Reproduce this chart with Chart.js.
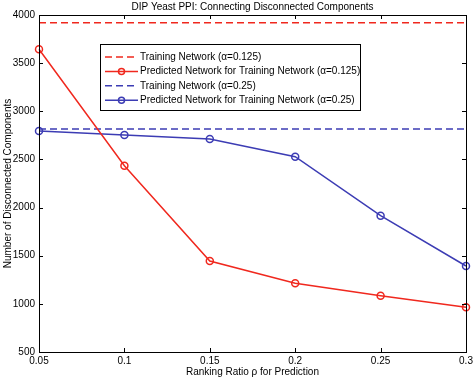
<!DOCTYPE html>
<html>
<head>
<meta charset="utf-8">
<script src="https://cdn.jsdelivr.net/npm/chart.js@4"></script>
<style>
  html, body { margin: 0; padding: 0; background: #fff; }
  #wrap { width: 473px; height: 378px; }
</style>
</head>
<body>
<div id="wrap"><canvas id="ppiChart" width="473" height="378"></canvas></div>
<script>
// ranking ratio on the x axis
var ratios = [0.05, 0.1, 0.15, 0.2, 0.25, 0.3];
// predicted networks
var predicted125 = [3644, 2435, 1445, 1213, 1085, 964];
var predicted25 = [2795, 2754, 2712, 2528, 1916, 1393];
// training networks (flat reference lines)
var training125 = 3920;
var training25 = 2816;

var xTicks = [0.05, 0.1, 0.15, 0.2, 0.25, 0.3];
var yTicks = [500, 1000, 1500, 2000, 2500, 3000, 3500, 4000];

var chartTitle = 'DIP Yeast PPI: Connecting Disconnected Components';

var RED = 'rgb(240, 40, 30)';
var BLUE = 'rgb(60, 60, 180)';
var FONT = 'Liberation Sans, Arial, Helvetica, sans-serif';

function pts(vals) {
    var out = [];
    for (var i = 0; i < ratios.length; i++) {
        out.push({ x: ratios[i], y: vals[i] });
    }
    return out;
}
function flat(v) {
    return [{ x: ratios[0], y: v }, { x: ratios[ratios.length - 1], y: v }];
}

// box + inward ticks, matlab style, title centred over the axes
var boxPlugin = {
    id: 'boxTicks',
    afterDatasetsDraw(chart) {
        var ctx = chart.ctx, a = chart.chartArea;
        var xs = chart.scales.x, ys = chart.scales.y;
        ctx.save();
        ctx.strokeStyle = '#000';
        ctx.lineWidth = 1;
        ctx.strokeRect(Math.round(a.left) + 0.5, Math.round(a.top) + 0.5,
            Math.round(a.right - a.left), Math.round(a.bottom - a.top));
        ctx.beginPath();
        xTicks.forEach(function (t) {
            var px = Math.round(xs.getPixelForValue(t)) + 0.5;
            ctx.moveTo(px, a.bottom); ctx.lineTo(px, a.bottom - 4);
            ctx.moveTo(px, a.top); ctx.lineTo(px, a.top + 4);
        });
        yTicks.forEach(function (t) {
            var py = Math.round(ys.getPixelForValue(t)) + 0.5;
            ctx.moveTo(a.left, py); ctx.lineTo(a.left + 4, py);
            ctx.moveTo(a.right, py); ctx.lineTo(a.right - 4, py);
        });
        ctx.stroke();

        ctx.fillStyle = '#000';
        ctx.font = '10px ' + FONT;
        ctx.textAlign = 'center';
        ctx.textBaseline = 'middle';
        ctx.fillText(chartTitle, (a.left + a.right) / 2, 7);
        ctx.restore();
    }
};

// legend box inside the axes
var legendPlugin = {
    id: 'boxLegend',
    afterDatasetsDraw(chart) {
        var ctx = chart.ctx;
        var ds = chart.data.datasets;
        var x0 = 100, y0 = 44, w = 260, h = 66;
        ctx.save();
        ctx.fillStyle = '#fff';
        ctx.fillRect(x0, y0, w, h);
        ctx.strokeStyle = '#000';
        ctx.lineWidth = 1;
        ctx.strokeRect(x0 + 0.5, y0 + 0.5, w, h);
        ctx.font = '10px ' + FONT;
        ctx.textBaseline = 'middle';
        for (var i = 0; i < ds.length; i++) {
            var y = y0 + 13 + i * 14.4;
            ctx.strokeStyle = ds[i].borderColor;
            ctx.lineWidth = 1.5;
            ctx.setLineDash(ds[i].borderDash || []);
            ctx.beginPath();
            ctx.moveTo(105, y); ctx.lineTo(138, y);
            ctx.stroke();
            ctx.setLineDash([]);
            if (ds[i].pointRadius > 0) {
                ctx.beginPath();
                ctx.arc(121.5, y, 3, 0, Math.PI * 2);
                ctx.stroke();
            }
            ctx.fillStyle = '#000';
            ctx.fillText(ds[i].label, 140, y);
        }
        ctx.restore();
    }
};

var ctx = document.getElementById('ppiChart').getContext('2d');
var chart = new Chart(ctx, {
    type: 'line',
    data: {
        datasets: [{
            label: 'Training Network (\u03B1=0.125)',
            data: flat(training125),
            borderColor: RED,
            borderWidth: 1.5,
            borderDash: [7, 4],
            pointRadius: 0
        }, {
            label: 'Predicted Network for Training Network (\u03B1=0.125)',
            data: pts(predicted125),
            borderColor: RED,
            borderWidth: 1.5,
            pointRadius: 3.5,
            pointBorderWidth: 1.5,
            pointBackgroundColor: 'rgba(0,0,0,0)',
            pointBorderColor: RED
        }, {
            label: 'Training Network (\u03B1=0.25)',
            data: flat(training25),
            borderColor: BLUE,
            borderWidth: 1.5,
            borderDash: [7, 4],
            pointRadius: 0
        }, {
            label: 'Predicted Network for Training Network (\u03B1=0.25)',
            data: pts(predicted25),
            borderColor: BLUE,
            borderWidth: 1.5,
            pointRadius: 3.5,
            pointBorderWidth: 1.5,
            pointBackgroundColor: 'rgba(0,0,0,0)',
            pointBorderColor: BLUE
        }]
    },
    options: {
        responsive: false,
        animation: false,
        clip: false,
        layout: { padding: { left: 0, right: 7, top: 15, bottom: 0 } },
        plugins: {
            legend: { display: false },
            tooltip: { enabled: false },
            title: { display: false }
        },
        scales: {
            x: {
                type: 'linear',
                min: 0.05,
                max: 0.3,
                afterBuildTicks: function (s) { s.ticks = xTicks.map(function (v) { return { value: v }; }); },
                afterFit: function (s) { s.height = 26; s.paddingLeft = 0; s.paddingRight = 0; },
                grid: { display: false, drawTicks: false },
                border: { display: false },
                ticks: {
                    color: '#000',
                    padding: 3,
                    font: { family: FONT, size: 10 },
                    callback: function (v) { return String(parseFloat(v.toFixed(2))); }
                },
                title: {
                    display: true,
                    text: 'Ranking Ratio \u03C1 for Prediction',
                    color: '#000',
                    font: { family: FONT, size: 10 },
                    padding: { top: 0, bottom: 0 }
                }
            },
            y: {
                min: 500,
                max: 4000,
                afterBuildTicks: function (s) { s.ticks = yTicks.map(function (v) { return { value: v }; }); },
                afterFit: function (s) { s.width = 39; },
                grid: { display: false, drawTicks: false },
                border: { display: false },
                ticks: {
                    color: '#000',
                    padding: 4,
                    font: { family: FONT, size: 10 },
                    callback: function (v) { return String(v); }
                },
                title: {
                    display: true,
                    text: 'Number of Disconnected Components',
                    color: '#000',
                    font: { family: FONT, size: 10 },
                    padding: { top: 2, bottom: 0 }
                }
            }
        }
    },
    plugins: [boxPlugin, legendPlugin]
});
</script>
</body>
</html>
